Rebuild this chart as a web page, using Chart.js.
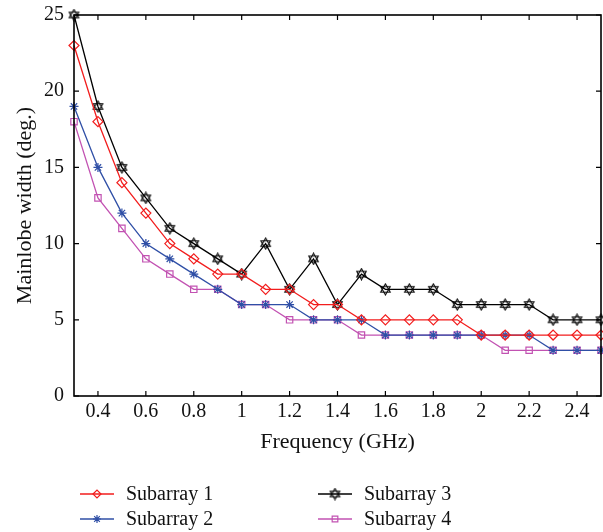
<!DOCTYPE html>
<html>
<head>
<meta charset="utf-8">
<script src="https://cdn.jsdelivr.net/npm/chart.js@4/dist/chart.umd.min.js"></script>
<style>
  body { margin: 0; background: #fff; }
  #wrap { width: 603px; height: 532px; }
</style>
</head>
<body>
<div id="wrap"><canvas id="width" width="603" height="532"></canvas></div>
<script>
// frequency sweep (GHz)
const freq = [0.3, 0.4, 0.5, 0.6, 0.7, 0.8, 0.9, 1.0, 1.1, 1.2, 1.3, 1.4,
              1.5, 1.6, 1.7, 1.8, 1.9, 2.0, 2.1, 2.2, 2.3, 2.4, 2.5];

// mainlobe width (deg.) per subarray
const sub1 = [23, 18, 14, 12, 10, 9, 8, 8, 7, 7, 6, 6, 5, 5, 5, 5, 5, 4, 4, 4, 4, 4, 4];
const sub2 = [19, 15, 12, 10, 9, 8, 7, 6, 6, 6, 5, 5, 5, 4, 4, 4, 4, 4, 4, 4, 3, 3, 3];
const sub3 = [25, 19, 15, 13, 11, 10, 9, 8, 10, 7, 9, 6, 8, 7, 7, 7, 6, 6, 6, 6, 5, 5, 5];
const sub4 = [18, 13, 11, 9, 8, 7, 7, 6, 6, 5, 5, 5, 4, 4, 4, 4, 4, 4, 3, 3, 3, 3, 3];

const xTicks = [0.4, 0.6, 0.8, 1.0, 1.2, 1.4, 1.6, 1.8, 2.0, 2.2, 2.4];
const yTicks = [0, 5, 10, 15, 20, 25];

const FONT = "'Liberation Serif', 'DejaVu Serif', serif";

// six-pointed star marker
function hexagram(size, color) {
    const c = document.createElement('canvas');
    c.width = size; c.height = size;
    const g = c.getContext('2d');
    const r = size / 2 - 1, cx = size / 2, cy = size / 2;
    g.strokeStyle = color;
    g.lineWidth = 1.1;
    for (let k = 0; k < 2; k++) {
        g.beginPath();
        for (let i = 0; i < 3; i++) {
            const a = -Math.PI / 2 + k * Math.PI + i * 2 * Math.PI / 3;
            const px = cx + r * Math.cos(a), py = cy + r * Math.sin(a);
            if (i === 0) g.moveTo(px, py); else g.lineTo(px, py);
        }
        g.closePath();
        g.stroke();
    }
    return c;
}

function series(label, values, color, style, radius) {
    return {
        label,
        data: values.map((v, i) => ({ x: freq[i], y: v })),
        borderColor: color,
        backgroundColor: 'rgba(0,0,0,0)',
        pointBorderColor: color,
        pointBackgroundColor: 'rgba(0,0,0,0)',
        pointStyle: style,
        pointRadius: radius,
        pointBorderWidth: 1.2,
        borderWidth: 1.3,
        tension: 0,
        clip: 8
    };
}

const datasets = [
    series('Subarray 1', sub1, '#f21d1d', 'rectRot', 5),
    series('Subarray 2', sub2, '#2f4fa6', 'star', 4.5),
    series('Subarray 3', sub3, '#000000', hexagram(13, '#000'), 6),
    series('Subarray 4', sub4, '#c252b2', 'rect', 4.5)
];

// plot frame with inward ticks on all four sides
const frame = {
    id: 'frame',
    afterDraw(chart) {
        const { ctx, chartArea: a, scales } = chart;
        const x = scales.x, y = scales.y, len = 5;
        ctx.save();
        ctx.strokeStyle = '#000';
        ctx.lineWidth = 1.6;
        ctx.strokeRect(a.left, a.top, a.right - a.left, a.bottom - a.top);
        ctx.lineWidth = 1.2;
        ctx.beginPath();
        for (const t of xTicks) {
            const px = x.getPixelForValue(t);
            ctx.moveTo(px, a.bottom); ctx.lineTo(px, a.bottom - len);
            ctx.moveTo(px, a.top); ctx.lineTo(px, a.top + len);
        }
        for (const t of yTicks) {
            const py = y.getPixelForValue(t);
            ctx.moveTo(a.left, py); ctx.lineTo(a.left + len, py);
            ctx.moveTo(a.right, py); ctx.lineTo(a.right - len, py);
        }
        ctx.stroke();
        ctx.restore();
    }
};

// two-column legend under the axis title
const legend2 = {
    id: 'legend2',
    afterDraw(chart) {
        const { ctx } = chart;
        const slots = [
            { i: 0, x: 80, y: 494 }, { i: 2, x: 318, y: 494 },
            { i: 1, x: 80, y: 519 }, { i: 3, x: 318, y: 519 }
        ];
        ctx.save();
        ctx.font = '20px ' + FONT;
        ctx.textBaseline = 'middle';
        for (const s of slots) {
            const ds = chart.data.datasets[s.i];
            ctx.strokeStyle = ds.borderColor;
            ctx.lineWidth = ds.borderWidth;
            ctx.beginPath();
            ctx.moveTo(s.x, s.y); ctx.lineTo(s.x + 34, s.y);
            ctx.stroke();
            ctx.fillStyle = 'rgba(0,0,0,0)';
            ctx.lineWidth = ds.pointBorderWidth;
            Chart.helpers.drawPoint(ctx, {
                pointStyle: ds.pointStyle, rotation: 0,
                radius: Math.min(ds.pointRadius, 4), borderWidth: ds.pointBorderWidth
            }, s.x + 17, s.y);
            ctx.fillStyle = '#111';
            ctx.fillText(ds.label, s.x + 46, s.y + 1);
        }
        ctx.restore();
    }
};

new Chart(document.getElementById('width'), {
    type: 'line',
    data: { datasets },
    options: {
        responsive: false,
        animation: false,
        layout: { autoPadding: false, padding: { top: 15, right: 2, bottom: 76, left: 0 } },
        plugins: { legend: { display: false }, tooltip: { enabled: false } },
        scales: {
            x: {
                type: 'linear',
                min: 0.3, max: 2.5,
                afterBuildTicks: s => { s.ticks = xTicks.map(v => ({ value: v })); },
                afterFit: s => { s.height = 60; s.paddingLeft = 0; s.paddingRight = 0; },
                grid: { display: false, drawTicks: false },
                border: { display: false },
                ticks: {
                    color: '#111', padding: 4,
                    font: { family: FONT, size: 20 },
                    callback: v => String(Math.round(v * 10) / 10)
                },
                title: {
                    display: true, text: 'Frequency (GHz)', color: '#111',
                    font: { family: FONT, size: 22 }, padding: { bottom: 1 }
                }
            },
            y: {
                min: 0, max: 25,
                afterBuildTicks: s => { s.ticks = yTicks.map(v => ({ value: v })); },
                afterFit: s => { s.width = 74; s.paddingTop = 0; s.paddingBottom = 0; },
                grid: { display: false, drawTicks: false },
                border: { display: false },
                ticks: {
                    color: '#111', padding: 10,
                    font: { family: FONT, size: 20 }
                },
                title: {
                    display: true, text: 'Mainlobe width (deg.)', color: '#111',
                    font: { family: FONT, size: 22 }, padding: { top: 12 }
                }
            }
        }
    },
    plugins: [frame, legend2]
});
</script>
</body>
</html>
